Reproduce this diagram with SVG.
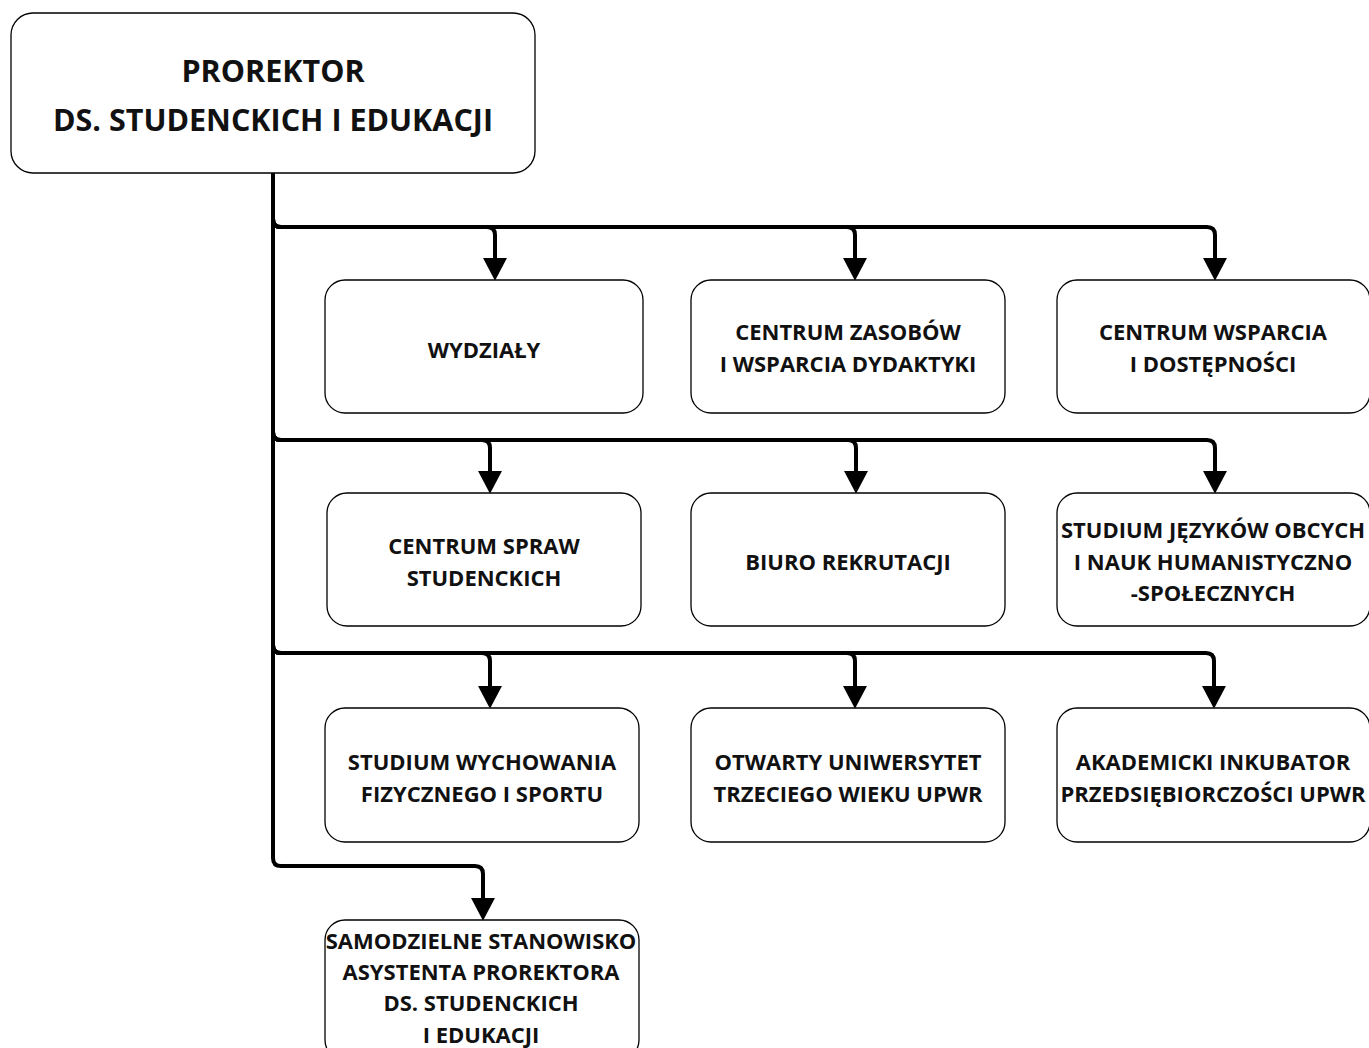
<svg xmlns="http://www.w3.org/2000/svg" width="1369" height="1048" viewBox="0 0 1369 1048">
<style>
.box{fill:#fff;stroke:#000;stroke-width:1.3}
.t{font-family:"Open Sans","Liberation Sans",sans-serif;font-weight:700;font-size:22px;fill:#111;text-anchor:middle}
.big{font-size:30.5px}
.c{fill:none;stroke:#000;stroke-width:4;stroke-linejoin:round}
</style>
<defs>
<marker id="ah" markerUnits="userSpaceOnUse" markerWidth="24" markerHeight="24" viewBox="0 0 22 22" refX="1" refY="11" orient="auto">
<path d="M0,0 L21,11 L0,22 z" fill="#000"/>
</marker>
</defs>
<rect width="1369" height="1048" fill="#fff"/>
<g id="connectors">
<path class="c" marker-end="url(#ah)" d="M273 173 V219 Q273 227 281 227 H487 Q495 227 495 235 V259"/>
<path class="c" marker-end="url(#ah)" d="M273 173 V219 Q273 227 281 227 H847 Q855 227 855 235 V259"/>
<path class="c" marker-end="url(#ah)" d="M273 173 V219 Q273 227 281 227 H1207 Q1215 227 1215 235 V259"/>
<path class="c" marker-end="url(#ah)" d="M273 173 V432 Q273 440 281 440 H482 Q490 440 490 448 V472"/>
<path class="c" marker-end="url(#ah)" d="M273 173 V432 Q273 440 281 440 H848 Q856 440 856 448 V472"/>
<path class="c" marker-end="url(#ah)" d="M273 173 V432 Q273 440 281 440 H1207 Q1215 440 1215 448 V472"/>
<path class="c" marker-end="url(#ah)" d="M273 173 V645 Q273 653 281 653 H482 Q490 653 490 661 V687"/>
<path class="c" marker-end="url(#ah)" d="M273 173 V645 Q273 653 281 653 H847 Q855 653 855 661 V687"/>
<path class="c" marker-end="url(#ah)" d="M273 173 V645 Q273 653 281 653 H1206 Q1214 653 1214 661 V687"/>
<path class="c" marker-end="url(#ah)" d="M273 173 V858 Q273 866 281 866 H475 Q483 866 483 874 V899"/>
</g>
<g id="n-prorektor">
<rect class="box" x="11" y="13" width="524" height="160" rx="22"/>
<text class="t big" x="273" y="82">PROREKTOR</text>
<text class="t big" x="273" y="131">DS. STUDENCKICH I EDUKACJI</text>
</g>
<g id="n-wydzialy">
<rect class="box" x="325" y="280" width="318" height="133" rx="20"/>
<text class="t" x="484" y="358">WYDZIAŁY</text>
</g>
<g id="n-czwd">
<rect class="box" x="691" y="280" width="314" height="133" rx="20"/>
<text class="t" x="848" y="340">CENTRUM ZASOBÓW</text>
<text class="t" x="848" y="372">I WSPARCIA DYDAKTYKI</text>
</g>
<g id="n-cwd">
<rect class="box" x="1057" y="280" width="313" height="133" rx="20"/>
<text class="t" x="1213" y="340">CENTRUM WSPARCIA</text>
<text class="t" x="1213" y="372">I DOSTĘPNOŚCI</text>
</g>
<g id="n-css">
<rect class="box" x="327" y="493" width="314" height="133" rx="20"/>
<text class="t" x="484" y="554">CENTRUM SPRAW</text>
<text class="t" x="484" y="586">STUDENCKICH</text>
</g>
<g id="n-br">
<rect class="box" x="691" y="493" width="314" height="133" rx="20"/>
<text class="t" x="848" y="570">BIURO REKRUTACJI</text>
</g>
<g id="n-sjo">
<rect class="box" x="1057" y="493" width="313" height="133" rx="20"/>
<text class="t" x="1213" y="538">STUDIUM JĘZYKÓW OBCYCH</text>
<text class="t" x="1213" y="570">I NAUK HUMANISTYCZNO</text>
<text class="t" x="1213" y="601">-SPOŁECZNYCH</text>
</g>
<g id="n-swfs">
<rect class="box" x="325" y="708" width="314" height="134" rx="20"/>
<text class="t" x="482" y="770">STUDIUM WYCHOWANIA</text>
<text class="t" x="482" y="802">FIZYCZNEGO I SPORTU</text>
</g>
<g id="n-outw">
<rect class="box" x="691" y="708" width="314" height="134" rx="20"/>
<text class="t" x="848" y="770">OTWARTY UNIWERSYTET</text>
<text class="t" x="848" y="802">TRZECIEGO WIEKU UPWR</text>
</g>
<g id="n-aip">
<rect class="box" x="1057" y="708" width="313" height="134" rx="20"/>
<text class="t" x="1213" y="770">AKADEMICKI INKUBATOR</text>
<text class="t" x="1213" y="802">PRZEDSIĘBIORCZOŚCI UPWR</text>
</g>
<g id="n-ssap">
<rect class="box" x="325" y="920" width="314" height="140" rx="20"/>
<text class="t" x="481" y="949">SAMODZIELNE STANOWISKO</text>
<text class="t" x="481" y="980">ASYSTENTA PROREKTORA</text>
<text class="t" x="481" y="1011">DS. STUDENCKICH</text>
<text class="t" x="481" y="1043">I EDUKACJI</text>
</g>
</svg>
